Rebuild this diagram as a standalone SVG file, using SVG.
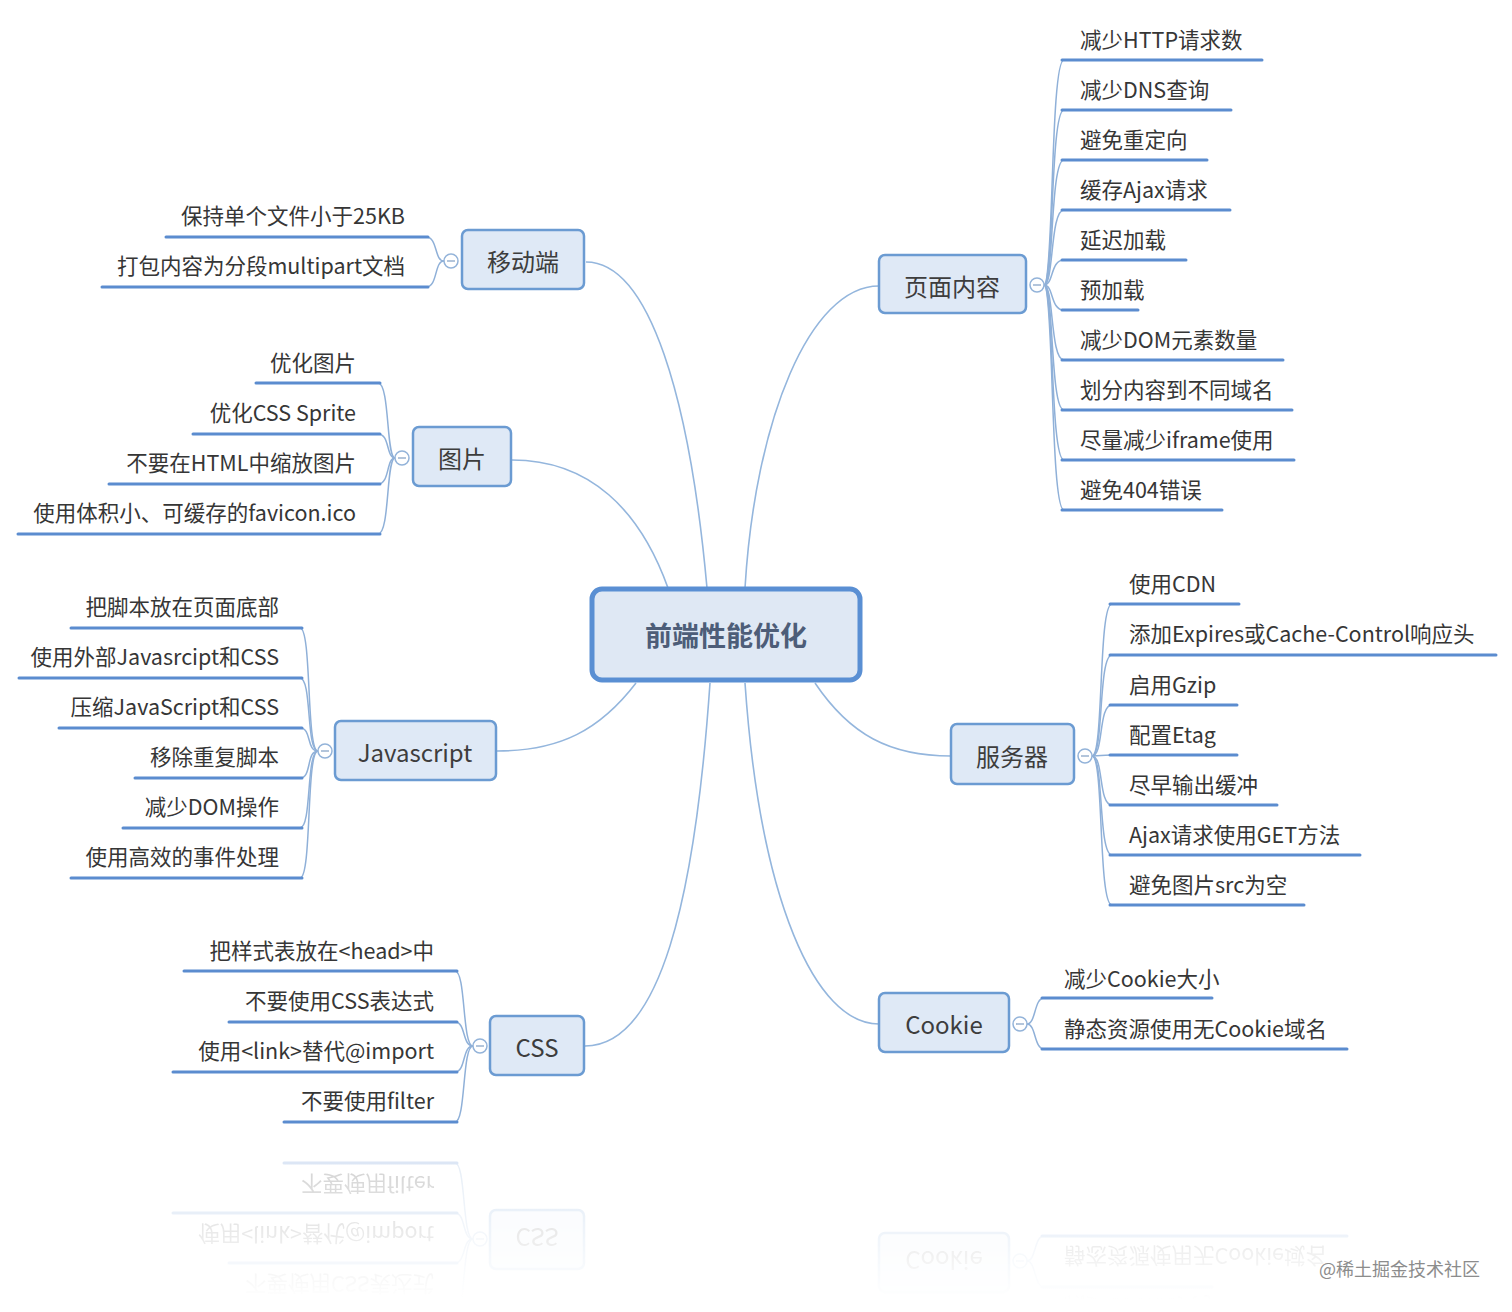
<svg xmlns="http://www.w3.org/2000/svg" xmlns:xlink="http://www.w3.org/1999/xlink" width="1512" height="1312" viewBox="0 0 1512 1312">
<style>
text{font-family:"Noto Sans CJK SC","Liberation Sans",sans-serif}
.leaf{font-size:21.5px;fill:#363636}
.r{text-anchor:end}
.ul{stroke:#5b8ccf;stroke-width:3;fill:none;stroke-linecap:round}
.lc{stroke:#8fb0d8;stroke-width:1.5;fill:none}
.cc{stroke:#94b6dd;stroke-width:1.6;fill:none}
.bn{fill:#dfe9f6;stroke:#6b9bd2;stroke-width:2.5}
.bt{font-size:24px;fill:#3d3d3d;text-anchor:middle}
.col{fill:#fff;stroke:#93b3d9;stroke-width:1.5}
.mn{stroke:#8aa6c8;stroke-width:1.3}
</style>
<defs>
<linearGradient id="fade" gradientUnits="userSpaceOnUse" x1="0" y1="1142" x2="0" y2="1300">
<stop offset="0" stop-color="#fff" stop-opacity="0.25"/>
<stop offset="1" stop-color="#fff" stop-opacity="0"/>
</linearGradient>
<mask id="m"><rect x="0" y="1142" width="1512" height="170" fill="url(#fade)"/></mask>
</defs>
<rect width="1512" height="1312" fill="#fff"/>

<g id="connectors">
<path class="cc" d="M745,588 C755,420 810,286 879,286"/>
<path class="cc" d="M707,588 C690,400 650,262 586,262"/>
<path class="cc" d="M668,588 C640,510 590,460 512,460"/>
<path class="cc" d="M636,683 C600,730 560,751 497,751"/>
<path class="cc" d="M710,683 C695,900 660,1046 585,1046"/>
<path class="cc" d="M815,683 C850,735 890,756 951,756"/>
<path class="cc" d="M745,683 C760,900 815,1024 879,1024"/>
</g>

<g id="center">
<rect x="592" y="589" width="268" height="91" rx="10" fill="#dfe8f4" stroke="#5a8fd3" stroke-width="5"/>
<text x="726" y="646" font-size="27" font-weight="bold" fill="#4d5d78" text-anchor="middle">前端性能优化</text>
</g>

<g id="page">
<rect class="bn" x="879" y="255" width="147" height="58" rx="6"/>
<text class="bt" x="952" y="296">页面内容</text>
<g class="lc">
<path d="M1044,285 C1054,285 1050,60 1064,60"/>
<path d="M1044,285 C1054,285 1050,110 1064,110"/>
<path d="M1044,285 C1054,285 1050,160 1064,160"/>
<path d="M1044,285 C1054,285 1050,210 1064,210"/>
<path d="M1044,285 C1054,285 1050,260 1064,260"/>
<path d="M1044,285 C1054,285 1050,310 1064,310"/>
<path d="M1044,285 C1054,285 1050,360 1064,360"/>
<path d="M1044,285 C1054,285 1050,410 1064,410"/>
<path d="M1044,285 C1054,285 1050,460 1064,460"/>
<path d="M1044,285 C1054,285 1050,510 1064,510"/>
</g>
<g class="ul">
<path d="M1062,60 H1262"/><path d="M1062,110 H1231"/><path d="M1062,160 H1207"/><path d="M1062,210 H1230"/><path d="M1062,260 H1186"/>
<path d="M1062,310 H1138"/><path d="M1062,360 H1283"/><path d="M1062,410 H1292"/><path d="M1062,460 H1294"/><path d="M1062,510 H1222"/>
</g>
<g class="leaf">
<text x="1080" y="48">减少HTTP请求数</text>
<text x="1080" y="98">减少DNS查询</text>
<text x="1080" y="148">避免重定向</text>
<text x="1080" y="198">缓存Ajax请求</text>
<text x="1080" y="248">延迟加载</text>
<text x="1080" y="298">预加载</text>
<text x="1080" y="348">减少DOM元素数量</text>
<text x="1080" y="398">划分内容到不同域名</text>
<text x="1080" y="448">尽量减少iframe使用</text>
<text x="1080" y="498">避免404错误</text>
</g>
<circle class="col" cx="1037" cy="285" r="7"/><path class="mn" d="M1033,285 H1041"/>
</g>

<g id="mobile">
<rect class="bn" x="462" y="230" width="122" height="59" rx="6"/>
<text class="bt" x="523" y="271">移动端</text>
<g class="lc">
<path d="M444,261 C434,261 438,237 426,237"/>
<path d="M444,261 C434,261 438,287 426,287"/>
</g>
<g class="ul"><path d="M166,237 H428"/><path d="M102,287 H428"/></g>
<g class="leaf r">
<text x="405" y="224">保持单个文件小于25KB</text>
<text x="405" y="274">打包内容为分段multipart文档</text>
</g>
<circle class="col" cx="451" cy="261" r="7"/><path class="mn" d="M447,261 H455"/>
</g>

<g id="image">
<rect class="bn" x="413" y="427" width="98" height="59" rx="6"/>
<text class="bt" x="462" y="468">图片</text>
<g class="lc">
<path d="M395,458 C386,458 390,383 378,383"/>
<path d="M395,458 C386,458 390,434 378,434"/>
<path d="M395,458 C386,458 390,484 378,484"/>
<path d="M395,458 C386,458 390,534 378,534"/>
</g>
<g class="ul"><path d="M256,383 H380"/><path d="M193,434 H380"/><path d="M109,484 H380"/><path d="M18,534 H380"/></g>
<g class="leaf r">
<text x="356" y="371">优化图片</text>
<text x="356" y="421">优化CSS Sprite</text>
<text x="356" y="471">不要在HTML中缩放图片</text>
<text x="356" y="521">使用体积小、可缓存的favicon.ico</text>
</g>
<circle class="col" cx="402" cy="458" r="7"/><path class="mn" d="M398,458 H406"/>
</g>

<g id="javascript">
<rect class="bn" x="335" y="721" width="161" height="59" rx="6"/>
<text class="bt" x="415" y="762">Javascript</text>
<g class="lc">
<path d="M318,751 C306,751 312,628 300,628"/>
<path d="M318,751 C306,751 312,678 300,678"/>
<path d="M318,751 C306,751 312,728 300,728"/>
<path d="M318,751 C306,751 312,778 300,778"/>
<path d="M318,751 C306,751 312,828 300,828"/>
<path d="M318,751 C306,751 312,878 300,878"/>
</g>
<g class="ul"><path d="M71,628 H302"/><path d="M19,678 H302"/><path d="M59,728 H302"/><path d="M135,778 H302"/><path d="M123,828 H302"/><path d="M71,878 H302"/></g>
<g class="leaf r">
<text x="279" y="615">把脚本放在页面底部</text>
<text x="279" y="665">使用外部Javasrcipt和CSS</text>
<text x="279" y="715">压缩JavaScript和CSS</text>
<text x="279" y="765">移除重复脚本</text>
<text x="279" y="815">减少DOM操作</text>
<text x="279" y="865">使用高效的事件处理</text>
</g>
<circle class="col" cx="325" cy="751" r="7"/><path class="mn" d="M321,751 H329"/>
</g>

<g id="server">
<rect class="bn" x="951" y="724" width="123" height="60" rx="6"/>
<text class="bt" x="1012" y="766">服务器</text>
<g class="lc">
<path d="M1092,756 C1104,756 1098,604 1112,604"/>
<path d="M1092,756 C1104,756 1098,655 1112,655"/>
<path d="M1092,756 C1104,756 1098,705 1112,705"/>
<path d="M1092,756 C1104,756 1098,755 1112,755"/>
<path d="M1092,756 C1104,756 1098,805 1112,805"/>
<path d="M1092,756 C1104,756 1098,855 1112,855"/>
<path d="M1092,756 C1104,756 1098,905 1112,905"/>
</g>
<g class="ul"><path d="M1110,604 H1239"/><path d="M1110,655 H1496"/><path d="M1110,705 H1237"/><path d="M1110,755 H1237"/><path d="M1110,805 H1277"/><path d="M1110,855 H1360"/><path d="M1110,905 H1304"/></g>
<g class="leaf">
<text x="1129" y="592">使用CDN</text>
<text x="1129" y="642">添加Expires或Cache-Control响应头</text>
<text x="1129" y="693">启用Gzip</text>
<text x="1129" y="743">配置Etag</text>
<text x="1129" y="793">尽早输出缓冲</text>
<text x="1129" y="843">Ajax请求使用GET方法</text>
<text x="1129" y="893">避免图片src为空</text>
</g>
<circle class="col" cx="1085" cy="756" r="7"/><path class="mn" d="M1081,756 H1089"/>
</g>

<g id="cookie">
<rect class="bn" x="879" y="993" width="130" height="59" rx="6"/>
<text class="bt" x="944" y="1034">Cookie</text>
<g class="lc">
<path d="M1027,1024 C1036,1024 1034,998 1044,998"/>
<path d="M1027,1024 C1036,1024 1034,1049 1044,1049"/>
</g>
<g class="ul"><path d="M1042,998 H1212"/><path d="M1042,1049 H1347"/></g>
<g class="leaf">
<text x="1064" y="987">减少Cookie大小</text>
<text x="1064" y="1037">静态资源使用无Cookie域名</text>
</g>
<circle class="col" cx="1020" cy="1024" r="7"/><path class="mn" d="M1016,1024 H1024"/>
</g>

<g id="css">
<rect class="bn" x="490" y="1016" width="94" height="59" rx="6"/>
<text class="bt" x="537" y="1057">CSS</text>
<g class="lc">
<path d="M473,1046 C462,1046 466,971 455,971"/>
<path d="M473,1046 C462,1046 466,1022 455,1022"/>
<path d="M473,1046 C462,1046 466,1072 455,1072"/>
<path d="M473,1046 C462,1046 466,1122 455,1122"/>
</g>
<g class="ul"><path d="M184,971 H457"/><path d="M229,1022 H457"/><path d="M173,1072 H457"/><path d="M284,1122 H457"/></g>
<g class="leaf r">
<text x="434" y="959">把样式表放在&lt;head&gt;中</text>
<text x="434" y="1009">不要使用CSS表达式</text>
<text x="434" y="1059">使用&lt;link&gt;替代@import</text>
<text x="434" y="1109">不要使用filter</text>
</g>
<circle class="col" cx="480" cy="1046" r="7"/><path class="mn" d="M476,1046 H484"/>
</g>

<g id="reflection" mask="url(#m)">
<g transform="translate(0,2285) scale(1,-1)">
<use xlink:href="#css"/>
<use xlink:href="#cookie"/>
</g>
</g>

<text x="1480" y="1276" font-size="18" fill="#8c8c8c" text-anchor="end">@稀土掘金技术社区</text>
</svg>
